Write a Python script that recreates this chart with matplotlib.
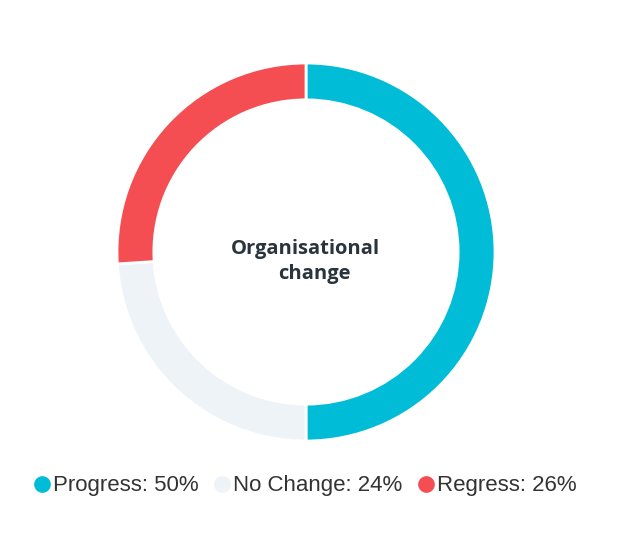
import matplotlib.pyplot as plt
from matplotlib.lines import Line2D

labels = ["Progress", "No Change", "Regress"]
values = [50, 24, 26]
colors = ["#00bcd6", "#eef3f8", "#f44e52"]
center_title = ["Organisational", "change"]

fig = plt.figure(figsize=(6.4, 5.33), dpi=100)
R = 189  # outer radius in px
cx, cy = 306, 252
lim = 1.1
w = 2 * lim * R / 640
h = 2 * lim * R / 533
ax = fig.add_axes([cx / 640 - w / 2, (533 - cy) / 533 - h / 2, w, h])

ax.pie(values, colors=colors, startangle=90, counterclock=False, radius=1,
       wedgeprops=dict(width=0.195, edgecolor="white", linewidth=2))
ax.set_xlim(-lim, lim)
ax.set_ylim(-lim, lim)
ax.set_aspect("equal")
ax.axis("off")

ax.text(-0.005, 0.016, center_title[0], ha="center", va="center",
        fontsize=14.5, fontweight="bold", family="Open Sans", color="#29343d")
ax.text(0.042, -0.118, center_title[1], ha="center", va="center",
        fontsize=14.5, fontweight="bold", family="Open Sans", color="#29343d")

handles = [Line2D([], [], marker="o", linestyle="", markersize=11,
                  markerfacecolor=c, markeredgecolor=c) for c in colors]
texts = [f"{l}: {v}%" for l, v in zip(labels, values)]
fig.legend(handles, texts, loc="center", bbox_to_anchor=(304 / 640, 1 - 486 / 533),
           ncol=3, frameon=False, handletextpad=0.0, columnspacing=0.55,
           handlelength=1.0, prop=dict(family="Liberation Sans", size=16.0),
           labelcolor="#333333")

fig.savefig("out.png", dpi=100)
